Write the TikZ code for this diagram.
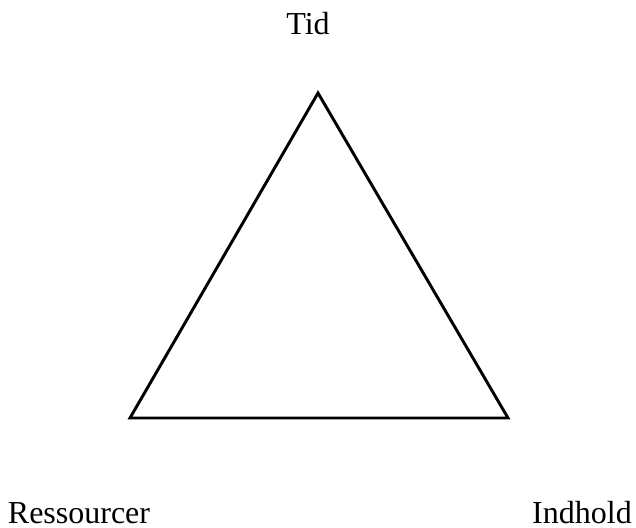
\documentclass[tikz,border=0pt]{standalone}
\usepackage{fontspec}
\setmainfont{Liberation Serif}
\tikzset{
  corner/.style={anchor=base, inner sep=0pt, font=\fontsize{24}{28}\selectfont},
  edge/.style={line width=2.2pt, line join=miter},
}

\begin{document}
\begin{tikzpicture}[x=0.75pt, y=-0.75pt]
    \useasboundingbox (0,0) rectangle (636,528);
    \coordinate (apex) at (318,93);
    \coordinate (bleft) at (130,418);
    \coordinate (bright) at (508,418);
    \node[corner] (tid) at (308,35) {Tid};
    \node[corner] (ressourcer) at (79,523) {Ressourcer};
    \node[corner] (indhold) at (582,523) {Indhold};
    \draw[edge] (apex) -- (bright) -- (bleft) -- cycle;
  \end{tikzpicture}
\end{document}
